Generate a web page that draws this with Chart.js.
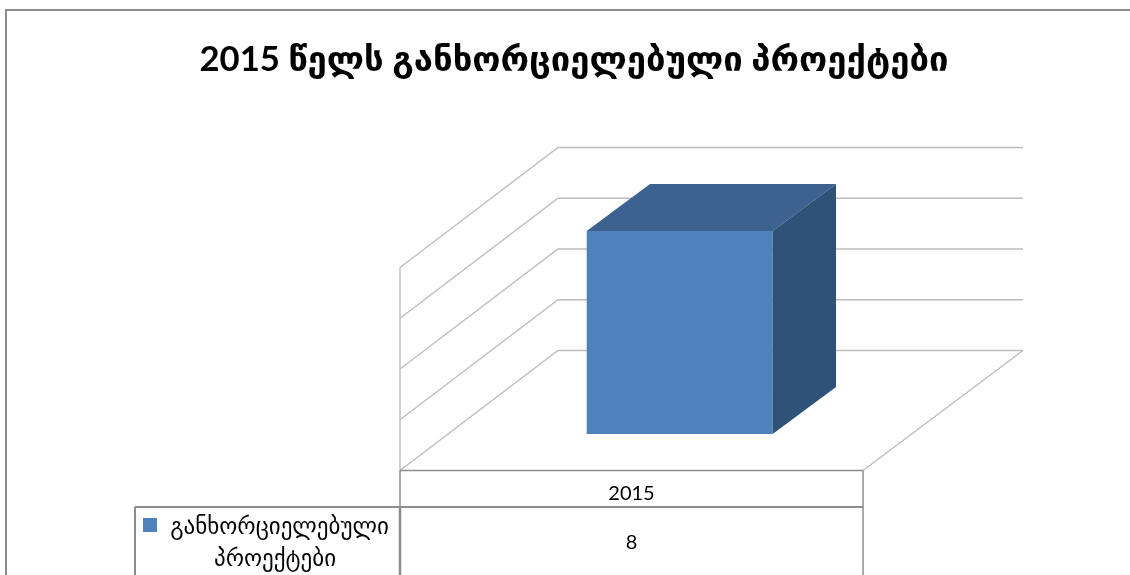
<!DOCTYPE html>
<html>
<head>
<meta charset="utf-8">
<script src="https://cdn.jsdelivr.net/npm/chart.js@4/dist/chart.umd.min.js"></script>
<style>html,body{margin:0;padding:0;background:#fff}canvas{display:block}</style>
</head>
<body>
<canvas id="c" width="1130" height="575"></canvas>
<script>
const categories = ["2015"];
const projectValues = [8];
const seriesName = "განხორციელებული პროექტები";
const seriesLines = ["განხორციელებული", "პროექტები"];
const chartTitle = "2015 წელს განხორციელებული პროექტები";

const BAR_DX = 63.3, BAR_DY = -47;     // bar depth
const FRONT_DX = -48.2, FRONT_DY = 36.5; // bar plane -> front edge of the box
const WALL_DX = 158, WALL_DY = -120;   // front edge -> back wall
const WALL_RIGHT_EXTRA = 2;            // back wall is slightly wider in the perspective
const LINE = "#8c8c8c", WALL = "#bdbdbd";
const BODY = '"Lato","DejaVu Sans",sans-serif';

function seg(ctx, x1, y1, x2, y2) {
  ctx.beginPath(); ctx.moveTo(x1, y1); ctx.lineTo(x2, y2); ctx.stroke();
}

const scene = {
  id: "scene",
  afterLayout(chart) {
    chart.titleBlock.left = 0;
    chart.titleBlock.right = 1148;
  },
  beforeDatasetsDraw(chart) {
    const { ctx, scales: { x, y } } = chart;
    const left = x.left + FRONT_DX, right = x.right + FRONT_DX;
    const backRight = right + WALL_DX + WALL_RIGHT_EXTRA;
    ctx.save();
    ctx.strokeStyle = WALL; ctx.lineWidth = 1.4;
    y.ticks.forEach(t => {
      const fy = y.getPixelForValue(t.value) + FRONT_DY;
      ctx.beginPath();
      ctx.moveTo(left, fy);
      ctx.lineTo(left + WALL_DX, fy + WALL_DY);
      ctx.lineTo(backRight, fy + WALL_DY);
      ctx.stroke();
    });
    const top = y.getPixelForValue(y.max) + FRONT_DY, base = y.getPixelForValue(0) + FRONT_DY;
    seg(ctx, left, top, left, base);
    seg(ctx, right, base, backRight, base + WALL_DY);
    ctx.restore();
  },
  afterDatasetsDraw(chart) {
    const { ctx, scales: { x, y } } = chart;
    const bar = chart.getDatasetMeta(0).data[0];
    const l = bar.x - bar.width / 2, r = bar.x + bar.width / 2, t = bar.y, b = bar.base;
    ctx.save();
    ctx.fillStyle = "#3d6290";
    ctx.beginPath();
    ctx.moveTo(l, t); ctx.lineTo(l + BAR_DX, t + BAR_DY); ctx.lineTo(r + BAR_DX, t + BAR_DY); ctx.lineTo(r, t);
    ctx.closePath(); ctx.fill();
    ctx.fillStyle = "#2f5279";
    ctx.beginPath();
    ctx.moveTo(r, t); ctx.lineTo(r + BAR_DX, t + BAR_DY); ctx.lineTo(r + BAR_DX, b + BAR_DY); ctx.lineTo(r, b);
    ctx.closePath(); ctx.fill();

    // chart frame
    ctx.strokeStyle = LINE; ctx.lineWidth = 2;
    ctx.beginPath(); ctx.moveTo(6, 575); ctx.lineTo(6, 10); ctx.lineTo(1130, 10); ctx.stroke();

    // data table
    const left = x.left + FRONT_DX, right = x.right + FRONT_DX;
    const base = y.getPixelForValue(0) + FRONT_DY;
    const row = 507, boxLeft = 135;
    ctx.lineWidth = 1.5;
    seg(ctx, left, base, right, base);
    seg(ctx, left, base, left, row);
    seg(ctx, right, base, right, 575);
    ctx.lineWidth = 2;
    seg(ctx, boxLeft, row, right, row);
    seg(ctx, boxLeft, row, boxLeft, 575);
    ctx.lineWidth = 2.5;
    seg(ctx, left, row, left, 575);

    ctx.fillStyle = "#000"; ctx.textAlign = "center"; ctx.textBaseline = "middle";
    ctx.font = "20px " + BODY;
    const cx = (left + right) / 2;
    ctx.fillText(categories[0], cx, 493.5);
    ctx.fillText(String(projectValues[0]), cx, 543);
    ctx.font = "23px " + BODY;
    ctx.fillText(seriesLines[0], 279.5, 527);
    ctx.fillText(seriesLines[1], 275, 559);
    ctx.fillStyle = chart.data.datasets[0].backgroundColor;
    ctx.fillRect(143, 518, 14, 14);
    ctx.restore();
  }
};

new Chart(document.getElementById("c"), {
  type: "bar",
  data: {
    labels: categories,
    datasets: [{
      label: seriesName,
      data: projectValues,
      backgroundColor: "#4f81bd",
      barPercentage: 0.4017,
      categoryPercentage: 1
    }]
  },
  options: {
    responsive: false,
    animation: false,
    layout: { padding: { left: 448.2, right: 218.8, top: 0, bottom: 141 } },
    plugins: {
      legend: { display: false },
      tooltip: { enabled: false },
      title: {
        display: true,
        text: chartTitle,
        color: "#000",
        font: { family: BODY, size: 34.7, weight: "bold", lineHeight: 1.2 },
        padding: { top: 39, bottom: 150.4 }
      }
    },
    scales: {
      x: { display: false },
      y: { display: false, min: 0, max: 8, ticks: { stepSize: 2 } }
    }
  },
  plugins: [scene]
});
</script>
</body>
</html>
